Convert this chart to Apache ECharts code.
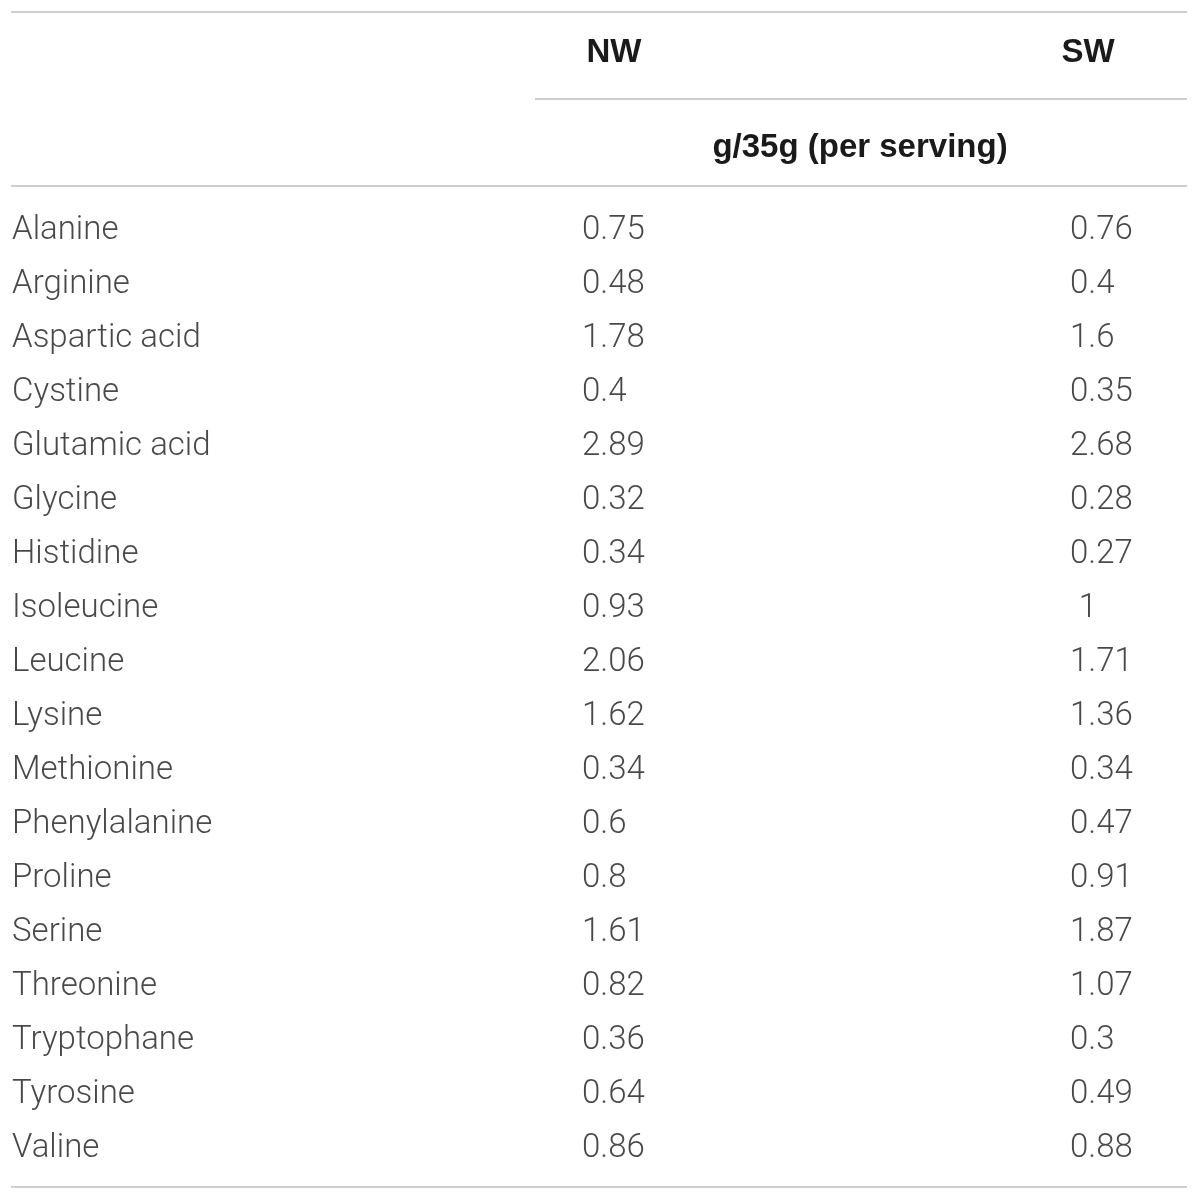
<!DOCTYPE html>
<html><head><meta charset="utf-8">
<script src="https://cdn.jsdelivr.net/npm/echarts@6/dist/echarts.min.js"></script>
<style>html,body{margin:0;padding:0;background:#fff}#c{width:1200px;height:1199px}</style>
</head><body><div id="c"></div>
<script>
const aminoAcids = ["Alanine","Arginine","Aspartic acid","Cystine","Glutamic acid","Glycine","Histidine","Isoleucine","Leucine","Lysine","Methionine","Phenylalanine","Proline","Serine","Threonine","Tryptophane","Tyrosine","Valine"];
const nwValues = [0.75,0.48,1.78,0.4,2.89,0.32,0.34,0.93,2.06,1.62,0.34,0.6,0.8,1.61,0.82,0.36,0.64,0.86];
const swValues = [0.76,0.4,1.6,0.35,2.68,0.28,0.27,1,1.71,1.36,0.34,0.47,0.91,1.87,1.07,0.3,0.49,0.88];
const columnHeaders = ["NW","SW"];
const unitHeader = "g/35g (per serving)";

const FONT = "Roboto";
const TXT = "#1a1a1a";
const RULE = "#cfcfcf";
const colLabelX = 12, colNWX = 582, colSWX = 1070;
const colNWCenter = 614, colSWCenter = 1088;

function valueSeries(name, values, leftX, centerX) {
  return {
    type: 'scatter', name: name, symbolSize: 0, silent: true,
    data: values.map((v, i) => {
      const s = String(v);
      const whole = s.indexOf('.') < 0;
      return { value: [whole ? centerX : leftX, aminoAcids[i]], txt: s,
        label: { align: whole ? 'center' : 'left' } };
    }),
    label: { show: true, position: 'inside', offset: [0, 0],
      formatter: p => p.data.txt, fontFamily: FONT, fontWeight: 300,
      fontSize: 33, color: TXT, align: 'left', verticalAlign: 'middle' }
  };
}

const chart = echarts.init(document.getElementById('c'), null, {renderer: 'canvas'});
chart.setOption({
  animation: false,
  grid: { left: 0, top: 204, width: 1200, height: 972 },
  xAxis: { type: 'value', min: 0, max: 1200, show: false },
  yAxis: { type: 'category', data: aminoAcids, inverse: true, show: false },
  series: [
    {
      type: 'scatter', name: 'labels', symbolSize: 0, silent: true,
      data: aminoAcids.map(a => ({ value: [colLabelX, a], txt: a })),
      label: { show: true, position: 'inside', formatter: p => p.data.txt,
        fontFamily: FONT, fontWeight: 300, fontSize: 33, color: TXT,
        align: 'left', verticalAlign: 'middle' }
    },
    valueSeries(columnHeaders[0], nwValues, colNWX, colNWCenter),
    valueSeries(columnHeaders[1], swValues, colSWX, colSWCenter)
  ],
  graphic: [
    { type: 'line', shape: {x1: 11, y1: 12, x2: 1187, y2: 12}, style: {stroke: RULE, lineWidth: 2} },
    { type: 'line', shape: {x1: 535, y1: 99, x2: 1187, y2: 99}, style: {stroke: RULE, lineWidth: 2} },
    { type: 'line', shape: {x1: 11, y1: 186, x2: 1187, y2: 186}, style: {stroke: RULE, lineWidth: 2} },
    { type: 'line', shape: {x1: 11, y1: 1187, x2: 1187, y2: 1187}, style: {stroke: RULE, lineWidth: 2} },
    { type: 'text', x: colNWCenter, y: 53, style: { text: columnHeaders[0], align: 'center', verticalAlign: 'middle',
      font: 'bold 33px "Liberation Sans", Arial, sans-serif', fill: TXT } },
    { type: 'text', x: colSWCenter, y: 53, style: { text: columnHeaders[1], align: 'center', verticalAlign: 'middle',
      font: 'bold 33px "Liberation Sans", Arial, sans-serif', fill: TXT } },
    { type: 'text', x: 860, y: 148, style: { text: unitHeader, align: 'center', verticalAlign: 'middle',
      font: 'bold 33px "Liberation Sans", Arial, sans-serif', fill: TXT } }
  ]
});
</script></body></html>
